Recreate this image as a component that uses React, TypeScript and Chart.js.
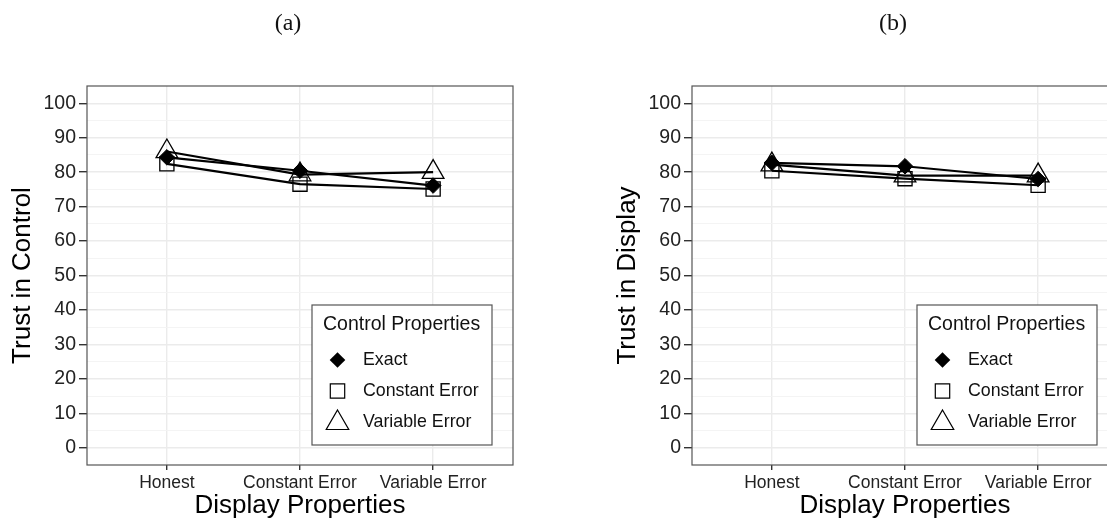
import React, { useEffect, useRef } from 'react';
import { Chart, registerables } from 'chart.js';

Chart.register(...registerables);

// Display conditions along the x axis
const displayCategories = ['Honest', 'Constant Error', 'Variable Error'];
// Control conditions (one line + marker per condition)
const controlLevels = ['Exact', 'Constant Error', 'Variable Error'];

// (a) Trust in Control
const controlTrustExact = [84.3, 80.4, 76.1];
const controlTrustConstant = [82.4, 76.5, 75.1];
const controlTrustVariable = [86.0, 79.3, 80.0];

// (b) Trust in Display
const displayTrustExact = [82.7, 81.7, 78.0];
const displayTrustConstant = [80.4, 78.1, 76.2];
const displayTrustVariable = [82.2, 79.0, 79.0];

// y ticks: labelled every 10, minor grid every 5
const yTickValues = [0, 5, 10, 15, 20, 25, 30, 35, 40, 45, 50, 55, 60, 65, 70, 75, 80, 85, 90, 95, 100];

const SANS = "'Liberation Sans', Arial, Helvetica, sans-serif";
const SERIF = "'Liberation Serif', 'DejaVu Serif', serif";

const CANVAS_W = 560;
const CANVAS_H = 522;

type MarkerKind = 'diamond' | 'square' | 'triangle';
const markerKinds: MarkerKind[] = ['diamond', 'square', 'triangle'];

function drawMarker(ctx: CanvasRenderingContext2D, kind: MarkerKind, x: number, y: number, r: number) {
  ctx.save();
  ctx.beginPath();
  if (kind === 'diamond') {
    ctx.moveTo(x - r, y);
    ctx.lineTo(x, y - r);
    ctx.lineTo(x + r, y);
    ctx.lineTo(x, y + r);
    ctx.closePath();
    ctx.fillStyle = '#000';
    ctx.fill();
  } else if (kind === 'square') {
    ctx.rect(x - r, y - r, 2 * r, 2 * r);
    ctx.strokeStyle = '#000';
    ctx.lineWidth = 1.2;
    ctx.stroke();
  } else {
    const hw = r * Math.sin((2 * Math.PI) / 3);
    ctx.moveTo(x, y - r);
    ctx.lineTo(x + hw, y + r / 2);
    ctx.lineTo(x - hw, y + r / 2);
    ctx.closePath();
    ctx.strokeStyle = '#000';
    ctx.lineWidth = 1.2;
    ctx.stroke();
  }
  ctx.restore();
}

// Panel frame and the inset legend
const panelDecor = {
  id: 'panelDecor',
  afterDatasetsDraw(chart: Chart) {
    const { ctx, chartArea } = chart;
    ctx.save();
    ctx.strokeStyle = '#555';
    ctx.lineWidth = 1.2;
    ctx.strokeRect(chartArea.left, chartArea.top, chartArea.right - chartArea.left, chartArea.bottom - chartArea.top);

    // legend box
    const bx = 312;
    const by = 305;
    const bw = 180;
    const bh = 140;
    ctx.fillStyle = '#fff';
    ctx.fillRect(bx, by, bw, bh);
    ctx.strokeStyle = '#555';
    ctx.lineWidth = 1.2;
    ctx.strokeRect(bx, by, bw, bh);

    ctx.fillStyle = '#111';
    ctx.textBaseline = 'middle';
    ctx.textAlign = 'left';
    ctx.font = `19.5px ${SANS}`;
    ctx.fillText('Control Properties', bx + 11, by + 20);

    const rowY = [by + 55, by + 86, by + 117];
    const sizes = [7.8, 7.2, 13];
    ctx.font = `17.8px ${SANS}`;
    controlLevels.forEach((name, i) => {
      const yOff = markerKinds[i] === 'triangle' ? 1 : 0;
      drawMarker(ctx, markerKinds[i], bx + 25.5, rowY[i] + yOff, sizes[i]);
      ctx.fillStyle = '#111';
      ctx.fillText(name, bx + 51, rowY[i]);
    });
    ctx.restore();
  },
};

function TrustPanel({ left, yTitle, series }: { left: number; yTitle: string; series: number[][] }) {
  const ref = useRef<HTMLCanvasElement>(null);

  useEffect(() => {
    const canvas = ref.current;
    if (!canvas) return;
    const toPoints = (arr: number[]) => arr.map((v, i) => ({ x: i + 1, y: v }));

    const lineSets = series.map((arr, i) => ({
      label: controlLevels[i] + ' line',
      data: toPoints(arr),
      borderColor: '#000',
      borderWidth: 2.2,
      pointRadius: 0,
      fill: false,
      tension: 0,
      order: 1,
    }));

    const markerStyle: any[] = [
      { pointStyle: 'rectRot', pointRadius: 7.8, backgroundColor: '#000', borderWidth: 1 },
      { pointStyle: 'rect', pointRadius: 10, backgroundColor: 'rgba(0,0,0,0)', borderWidth: 1.3 },
      { pointStyle: 'triangle', pointRadius: 12.5, backgroundColor: 'rgba(0,0,0,0)', borderWidth: 1.3 },
    ];
    const markerSets = series.map((arr, i) => ({
      label: controlLevels[i],
      data: toPoints(arr),
      showLine: false,
      borderColor: '#000',
      pointBorderColor: '#000',
      pointBackgroundColor: markerStyle[i].backgroundColor,
      pointStyle: markerStyle[i].pointStyle,
      pointRadius: markerStyle[i].pointRadius,
      pointBorderWidth: markerStyle[i].borderWidth,
      order: 0,
    }));

    const isMajor = (ctx: any) => ctx && ctx.tick && ctx.tick.value % 10 === 0;

    const chart = new Chart(canvas, {
      type: 'line',
      data: { datasets: [...lineSets, ...markerSets] as any },
      plugins: [panelDecor],
      options: {
        animation: false,
        responsive: false,
        maintainAspectRatio: false,
        events: [],
        layout: { padding: { top: 86, right: CANVAS_W - 513, bottom: 0, left: 0 } },
        plugins: {
          legend: { display: false },
          tooltip: { enabled: false },
          title: { display: false },
        },
        scales: {
          x: {
            type: 'linear',
            min: 0.4,
            max: 3.6,
            bounds: 'data',
            afterBuildTicks: (s: any) => {
              s.ticks = displayCategories.map((_, i) => ({ value: i + 1 }));
            },
            afterFit: (s: any) => {
              s.height = 57;
            },
            ticks: {
              autoSkip: false,
              maxRotation: 0,
              padding: 3,
              color: '#222',
              font: { family: SANS, size: 17.5 },
              callback: (v: any) => displayCategories[Math.round(v) - 1] ?? '',
            },
            grid: { color: '#ebebeb', lineWidth: 1.4, tickLength: 5, tickColor: '#333' },
            border: { display: false },
            title: {
              display: true,
              text: 'Display Properties',
              color: '#000',
              font: { family: SANS, size: 26 },
              padding: { top: 0, bottom: 1 },
            },
          },
          y: {
            type: 'linear',
            min: -5,
            max: 105,
            bounds: 'data',
            afterBuildTicks: (s: any) => {
              s.ticks = yTickValues.map((v) => ({ value: v }));
            },
            afterFit: (s: any) => {
              s.width = 87;
            },
            ticks: {
              autoSkip: false,
              padding: 3,
              color: '#222',
              font: { family: SANS, size: 19.5 },
              callback: (v: any) => (v % 10 === 0 ? String(v) : ''),
            },
            grid: {
              color: (ctx: any) => (isMajor(ctx) ? '#ebebeb' : '#f3f3f3'),
              lineWidth: (ctx: any) => (isMajor(ctx) ? 1.4 : 0.9),
              tickColor: (ctx: any) => (isMajor(ctx) ? '#333' : 'rgba(0,0,0,0)'),
              tickLength: 8,
            },
            border: { display: false },
            title: {
              display: true,
              text: yTitle,
              color: '#000',
              font: { family: SANS, size: 26 },
              padding: { top: 7, bottom: 0 },
            },
          },
        },
      } as any,
    });

    return () => chart.destroy();
  }, [yTitle, series]);

  return (
    <canvas
      ref={ref}
      width={CANVAS_W}
      height={CANVAS_H}
      style={{ position: 'absolute', left, top: 0, width: CANVAS_W, height: CANVAS_H, display: 'block' }}
    />
  );
}

const controlSeries = [controlTrustExact, controlTrustConstant, controlTrustVariable];
const displaySeries = [displayTrustExact, displayTrustConstant, displayTrustVariable];

export default function App() {
  const captionStyle = (cx: number): React.CSSProperties => ({
    position: 'absolute',
    left: cx - 50,
    top: 9,
    width: 100,
    textAlign: 'center',
    fontFamily: SERIF,
    fontSize: 24,
    lineHeight: '26px',
    color: '#111',
  });
  return (
    <div
      style={{
        position: 'absolute',
        left: 0,
        top: 0,
        width: 1107,
        height: 522,
        overflow: 'hidden',
        background: '#fff',
      }}
    >
      <TrustPanel left={0} yTitle="Trust in Control" series={controlSeries} />
      <TrustPanel left={605} yTitle="Trust in Display" series={displaySeries} />
      <div style={captionStyle(288)}>(a)</div>
      <div style={captionStyle(893)}>(b)</div>
    </div>
  );
}
